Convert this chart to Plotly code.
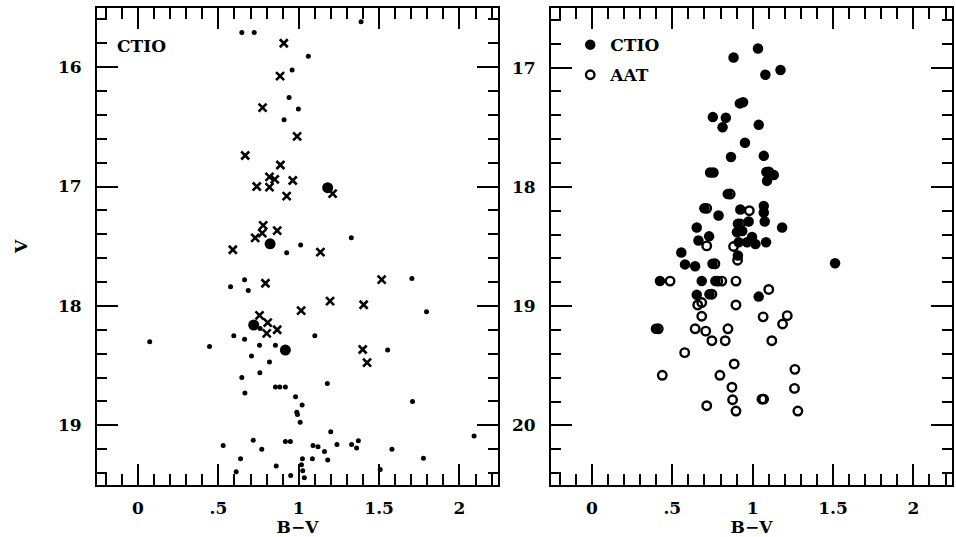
import plotly.graph_objects as go
from plotly.subplots import make_subplots

# ---------------- Left panel (CTIO) ----------------
left_dot_bv = [1.388, 0.646, 0.723, 1.06, 0.959, 0.94, 0.998, 0.909, 1.327, 1.012, 0.925,
               0.576, 0.663, 0.686, 1.704, 1.795, 0.76, 0.596, 0.663, 1.10, 0.073, 0.445,
               0.756, 0.855, 1.553, 0.706, 0.818, 0.758, 0.646, 1.178, 0.855, 0.882, 0.917,
               0.665, 0.98, 1.708, 1.021, 0.988, 0.992, 1.009, 1.199, 2.091, 0.717, 0.917,
               0.948, 0.53, 1.089, 1.12, 1.238, 1.329, 1.371, 1.36, 0.77, 1.16, 1.58, 0.638,
               1.023, 1.085, 1.18, 1.776, 0.86, 0.95, 1.017, 1.025, 1.035, 1.507, 0.611]
left_dot_v = [15.62, 15.71, 15.71, 15.91, 16.025, 16.255, 16.35, 16.44, 17.43, 17.49, 17.555,
              17.84, 17.78, 17.87, 17.77, 18.05, 18.19, 18.25, 18.28, 18.25, 18.30, 18.34,
              18.33, 18.33, 18.37, 18.42, 18.47, 18.56, 18.60, 18.65, 18.68, 18.68, 18.68,
              18.73, 18.76, 18.80, 18.83, 18.89, 18.91, 18.975, 19.055, 19.09, 19.125, 19.135,
              19.135, 19.17, 19.17, 19.18, 19.16, 19.16, 19.13, 19.19, 19.20, 19.22, 19.20, 19.28,
              19.28, 19.28, 19.29, 19.275, 19.34, 19.42, 19.33, 19.38, 19.44, 19.37, 19.39]

left_cross_bv = [0.907, 0.884, 0.775, 0.99, 0.667, 0.886, 0.818, 0.851, 0.963, 0.739, 0.818,
                 1.211, 0.925, 0.779, 0.866, 0.773, 0.729, 0.59, 1.135, 0.793, 1.516, 1.195,
                 1.404, 1.015, 0.756, 0.807, 0.866, 0.801, 1.398, 1.425]
left_cross_v = [15.80, 16.075, 16.34, 16.58, 16.74, 16.82, 16.92, 16.94, 16.95, 17.0, 17.005,
                17.06, 17.08, 17.325, 17.37, 17.39, 17.43, 17.53, 17.55, 17.81, 17.78, 17.96,
                17.99, 18.04, 18.08, 18.14, 18.2, 18.23, 18.365, 18.475]

left_big_bv = [1.18, 0.822, 0.72, 0.917]
left_big_v = [17.01, 17.48, 18.16, 18.37]

# ---------------- Right panel (CTIO filled, AAT open) ----------------
ctio_bv = [1.033, 0.881, 1.079, 1.173, 0.92, 0.94, 0.752, 0.833, 0.8125, 1.0375, 0.952,
           0.865, 1.069, 0.735, 0.756, 1.131, 1.089, 0.7875, 0.923, 1.069, 1.069, 1.075,
           0.975, 1.183, 0.652, 0.902, 0.935, 0.729, 0.6625, 0.996, 0.965, 1.017, 1.083,
           0.9125, 0.908, 0.556, 0.579, 0.642, 1.5125, 0.423, 0.683, 0.652, 1.0375,
           1.085, 0.845, 0.699, 0.908, 0.75, 0.768, 0.731, 0.398]
ctio_v = [16.84, 16.915, 17.06, 17.02, 17.30, 17.29, 17.415, 17.42, 17.50, 17.48, 17.63,
          17.75, 17.74, 17.88, 17.88, 17.90, 17.95, 18.24, 18.19, 18.16, 18.215, 18.29,
          18.29, 18.34, 18.34, 18.38, 18.37, 18.415, 18.45, 18.42, 18.465, 18.48, 18.465,
          18.465, 18.575, 18.55, 18.65, 18.665, 18.64, 18.79, 18.79, 18.905, 18.92,
          17.875, 18.06, 18.18, 18.31, 18.645, 18.79, 18.90, 19.19]

aat_bv = [1.10, 0.86, 0.714, 0.979, 0.923, 0.714, 0.881, 0.906, 0.765, 0.486, 0.783, 0.808,
          0.896, 1.10, 0.746, 0.683, 0.658, 0.896, 0.683, 1.065, 1.215, 1.186, 0.4125, 0.642,
          0.708, 0.846, 0.746, 0.829, 1.119, 0.577, 0.885, 1.2625, 0.4375, 0.796, 0.871,
          1.26, 0.875, 1.058, 1.068, 0.714, 0.896, 1.281]
aat_v = [17.875, 18.06, 18.18, 18.20, 18.31, 18.495, 18.50, 18.615, 18.645, 18.79, 18.79,
         18.79, 18.79, 18.86, 18.90, 18.97, 18.99, 18.99, 19.085, 19.09, 19.08, 19.15, 19.19,
         19.19, 19.21, 19.19, 19.29, 19.29, 19.29, 19.39, 19.485, 19.53, 19.58, 19.58, 19.68,
         19.69, 19.785, 19.78, 19.78, 19.835, 19.88, 19.88]

x_tickvals = [0, 0.5, 1, 1.5, 2]
x_ticktext = ["0", ".5", "1", "1.5", "2"]
left_y_ticks = [16, 17, 18, 19]
right_y_ticks = [17, 18, 19, 20]

FONT = "DejaVu Serif"
TXT = dict(family=FONT, size=17, color="black", weight="bold")

fig = make_subplots(rows=1, cols=2, horizontal_spacing=0.0619)

fig.add_trace(go.Scatter(x=left_dot_bv, y=left_dot_v, mode="markers", showlegend=False,
                         marker=dict(symbol="circle", size=5, color="black")), 1, 1)
fig.add_trace(go.Scatter(x=left_cross_bv, y=left_cross_v, mode="markers", showlegend=False,
                         marker=dict(symbol="x-thin", size=8, color="black",
                                     line=dict(width=2.6, color="black"))), 1, 1)
fig.add_trace(go.Scatter(x=left_big_bv, y=left_big_v, mode="markers", showlegend=False,
                         marker=dict(symbol="circle", size=11, color="black")), 1, 1)

fig.add_trace(go.Scatter(x=aat_bv, y=aat_v, mode="markers", name="AAT",
                         legendgroup="aat", legendrank=2,
                         marker=dict(symbol="circle-open", size=8.5, color="black",
                                     line=dict(width=2.4, color="black"))), 1, 2)
fig.add_trace(go.Scatter(x=ctio_bv, y=ctio_v, mode="markers", name="CTIO",
                         legendgroup="ctio", legendrank=1,
                         marker=dict(symbol="circle", size=10.5, color="black")), 1, 2)

axis_common = dict(showline=True, linewidth=2, linecolor="black", mirror="allticks",
                   ticks="inside", tickwidth=2, tickcolor="black", showgrid=False,
                   zeroline=False, tickfont=TXT)

for col in (1, 2):
    fig.update_xaxes(range=[-0.255, 2.24], tickmode="array", tickvals=x_tickvals,
                     ticktext=x_ticktext, ticklen=21, ticklabelstandoff=7,
                     minor=dict(tickmode="linear", dtick=0.1, tick0=0, ticks="inside",
                                ticklen=11, tickwidth=2, tickcolor="black", showgrid=False),
                     title=dict(text="B\u2212V", font=TXT, standoff=1),
                     row=1, col=col, **axis_common)

fig.update_yaxes(range=[19.5, 15.505], tickmode="array", tickvals=left_y_ticks, ticklen=21,
                 ticklabelstandoff=10,
                 minor=dict(tickmode="linear", dtick=0.2, tick0=15, ticks="inside",
                            ticklen=10, tickwidth=2, tickcolor="black", showgrid=False),
                 title=dict(text="V", font=TXT, standoff=26),
                 row=1, col=1, **axis_common)
fig.update_yaxes(range=[20.5, 16.5], tickmode="array", tickvals=right_y_ticks, ticklen=21,
                 ticklabelstandoff=10,
                 minor=dict(tickmode="linear", dtick=0.2, tick0=16, ticks="inside",
                            ticklen=10, tickwidth=2, tickcolor="black", showgrid=False),
                 row=1, col=2, **axis_common)

fig.add_annotation(text="CTIO", xref="x domain", yref="y domain", x=0.045, y=0.92,
                   xanchor="left", yanchor="middle", showarrow=False, font=TXT)

fig.update_layout(
    width=956, height=537,
    margin=dict(l=97, r=2, t=8, b=52),
    paper_bgcolor="white", plot_bgcolor="white",
    showlegend=True,
    legend=dict(x=0.5535, y=0.96, xanchor="left", yanchor="top",
                traceorder="grouped", tracegroupgap=5, itemwidth=30,
                bgcolor="rgba(0,0,0,0)", borderwidth=0, font=TXT),
)

fig.write_html("out.html", post_script="document.body.style.margin='0';",
               config={"displayModeBar": False})
